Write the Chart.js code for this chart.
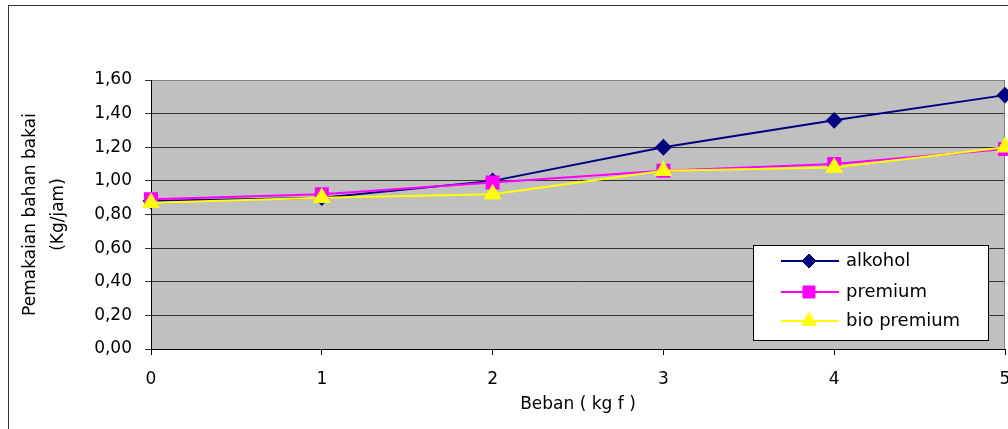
<!DOCTYPE html>
<html lang="id">
<head>
  <meta charset="UTF-8">
  <title>Pemakaian bahan bakar</title>
  <script src="https://cdn.jsdelivr.net/npm/chart.js"></script>
  <style>
    body {
      margin: 0;
      background: #fff;
    }
    canvas {
      display: block;
    }
  </style>
</head>
<body>
  <canvas id="grafikBahanBakar" width="1008" height="429"></canvas>

<script>
  // data
  const beban = ['0', '1', '2', '3', '4', '5'];
  const alkohol = [0.88, 0.90, 1.00, 1.20, 1.36, 1.51];
  const premium = [0.89, 0.92, 0.99, 1.06, 1.10, 1.19];
  const bioPremium = [0.87, 0.90, 0.92, 1.06, 1.08, 1.20];

  const fontChart = { family: 'DejaVu Sans', size: 17 };

  // latar abu-abu, bingkai luar dan bingkai area plot
  const latarPlot = {
    id: 'latarPlot',
    beforeDraw(chart) {
      const { ctx, chartArea: a } = chart;
      ctx.save();
      ctx.fillStyle = '#fff';
      ctx.fillRect(0, 0, chart.width, chart.height);
      ctx.strokeStyle = '#333';
      ctx.lineWidth = 1;
      ctx.strokeRect(8.5, 5.5, 1200, 800);
      ctx.fillStyle = '#c0c0c0';
      ctx.fillRect(a.left, a.top, a.right - a.left, a.bottom - a.top);
      ctx.restore();
    },
    beforeDatasetsDraw(chart) {
      const { ctx, chartArea: a } = chart;
      ctx.save();
      ctx.strokeStyle = '#808080';
      ctx.lineWidth = 1;
      ctx.beginPath();
      ctx.moveTo(a.left + 1, a.top + 0.5);
      ctx.lineTo(a.right - 0.5, a.top + 0.5);
      ctx.lineTo(a.right - 0.5, a.bottom);
      ctx.stroke();
      ctx.restore();
    }
  };

  // legenda di dalam area plot, kanan bawah
  const legendaDalam = {
    id: 'legendaDalam',
    afterDraw(chart) {
      const ctx = chart.ctx;
      const kotak = { x: 753.5, y: 245.5, w: 235, h: 95 };
      const barisY = [261, 292, 321];
      ctx.save();
      ctx.fillStyle = '#fff';
      ctx.fillRect(kotak.x, kotak.y, kotak.w, kotak.h);
      ctx.strokeStyle = '#000';
      ctx.lineWidth = 1;
      ctx.strokeRect(kotak.x, kotak.y, kotak.w, kotak.h);

      chart.data.datasets.forEach((ds, i) => {
        const y = barisY[i];
        ctx.strokeStyle = ds.borderColor;
        ctx.lineWidth = ds.borderWidth;
        ctx.beginPath();
        ctx.moveTo(781, y);
        ctx.lineTo(839, y);
        ctx.stroke();

        ctx.fillStyle = ds.pointBackgroundColor;
        ctx.strokeStyle = ds.pointBorderColor;
        ctx.lineWidth = 1;
        Chart.helpers.drawPoint(ctx, {
          pointStyle: ds.pointStyle,
          radius: ds.pointRadius,
          borderWidth: 1,
          rotation: 0
        }, 809, y);

        ctx.fillStyle = '#000';
        ctx.font = '18px "DejaVu Sans"';
        ctx.textBaseline = 'middle';
        ctx.textAlign = 'left';
        ctx.fillText(ds.label, 846, y);
      });
      ctx.restore();
    }
  };

  const ctx = document.getElementById('grafikBahanBakar').getContext('2d');

  new Chart(ctx, {
    type: 'line',
    data: {
      labels: beban,
      datasets: [
        {
          label: 'alkohol',
          data: alkohol,
          borderColor: '#000080',
          borderWidth: 2,
          pointStyle: 'rectRot',
          pointRadius: 7,
          pointBackgroundColor: '#000080',
          pointBorderColor: '#000080',
          order: 3
        },
        {
          label: 'premium',
          data: premium,
          borderColor: '#ff00ff',
          borderWidth: 2,
          pointStyle: 'rect',
          pointRadius: 8.5,
          pointBackgroundColor: '#ff00ff',
          pointBorderColor: '#ff00ff',
          order: 2
        },
        {
          label: 'bio premium',
          data: bioPremium,
          borderColor: '#ffff00',
          borderWidth: 2,
          pointStyle: 'triangle',
          pointRadius: 8.5,
          pointBackgroundColor: '#ffff00',
          pointBorderColor: '#ffff00',
          order: 1
        }
      ]
    },
    options: {
      responsive: false,
      animation: false,
      devicePixelRatio: 1,
      clip: false,
      layout: {
        autoPadding: false,
        padding: { left: 10, top: 80, right: 3, bottom: 0 }
      },
      plugins: {
        legend: { display: false },
        tooltip: { enabled: false }
      },
      elements: {
        line: { tension: 0, fill: false }
      },
      scales: {
        x: {
          offset: false,
          grid: {
            drawOnChartArea: false,
            color: '#000',
            tickLength: 6
          },
          border: { color: '#000', width: 1 },
          ticks: {
            color: '#000',
            font: fontChart,
            padding: 14,
            maxRotation: 0,
            autoSkip: false
          },
          title: {
            display: true,
            text: 'Beban ( kg f )',
            color: '#000',
            font: fontChart,
            padding: { top: 0, bottom: 14 }
          },
          afterFit(scale) {
            scale.height = 80;
            scale.paddingLeft = 0;
            scale.paddingRight = 0;
          }
        },
        y: {
          min: 0,
          max: 1.6,
          grid: {
            color: '#333',
            tickLength: 6
          },
          border: { color: '#000', width: 1 },
          ticks: {
            stepSize: 0.2,
            color: '#000',
            font: fontChart,
            padding: 13,
            callback: (v) => v.toFixed(2).replace('.', ',')
          },
          title: {
            display: true,
            text: ['Pemakaian bahan bakai', '(Kg/jam)'],
            color: '#000',
            font: { family: 'DejaVu Sans', size: 17, lineHeight: 1.65 },
            padding: { top: 7, bottom: 0 }
          },
          afterFit(scale) {
            scale.width = 141;
          }
        }
      }
    },
    plugins: [latarPlot, legendaDalam]
  });
</script>
</body>
</html>
